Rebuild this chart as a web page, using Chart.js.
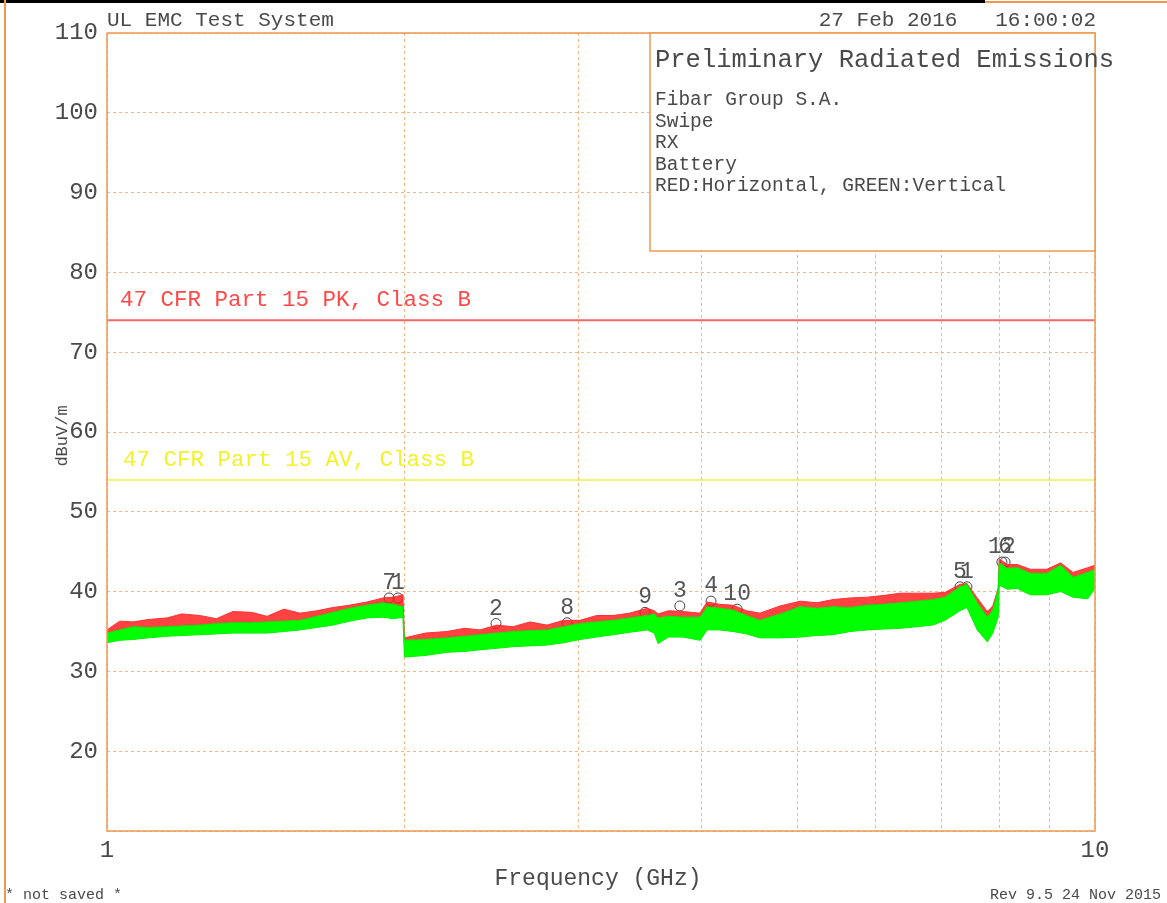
<!DOCTYPE html>
<html>
<head>
<meta charset="utf-8">
<script src="https://cdn.jsdelivr.net/npm/chart.js@4.4.1/dist/chart.umd.min.js"></script>
<style>
	body { margin: 0; background: #fff; }
	canvas { display: block; }
</style>
</head>
<body>
<canvas id="emc" width="1167" height="903"></canvas>
<script>
// trace envelopes (GHz / dBuV/m)
const freqGHz = [
	1.0, 1.03, 1.063, 1.10, 1.15, 1.19, 1.242, 1.29, 1.341, 1.40, 1.452, 1.51, 1.568, 1.63, 1.693, 1.76, 1.833, 1.903, 1.95, 1.993,
	2.0, 2.1, 2.209, 2.3, 2.385, 2.48, 2.576, 2.68, 2.788, 2.9, 3.011, 3.13, 3.252, 3.38, 3.521, 3.58, 3.612, 3.7, 3.828, 3.983,
	4.049, 4.17, 4.30, 4.44, 4.58, 4.8, 5.03, 5.23, 5.43, 5.65, 5.88, 6.1, 6.35, 6.6, 6.85, 7.05, 7.30, 7.42, 7.60, 7.78, 7.88, 7.98,
	8.0, 8.15, 8.34, 8.6, 8.94, 9.23, 9.5, 9.83, 10.0
];
const greenHi = [
	34.8, 35.2, 35.6, 35.5, 35.6, 35.7, 35.8, 36.0, 36.1, 36.1, 36.2, 36.3, 36.4, 36.9, 37.4, 37.9, 38.3, 38.6, 38.4, 38.1,
	33.9, 34.0, 34.2, 34.4, 34.6, 34.8, 35.0, 35.1, 35.2, 35.6, 36.0, 36.2, 36.4, 36.7, 37.0, 37.2, 36.7, 36.9, 36.8, 36.8,
	38.1, 37.9, 37.7, 37.0, 36.4, 37.2, 38.1, 37.9, 38.1, 38.0, 38.3, 38.4, 38.6, 38.8, 39.0, 39.3, 40.6, 40.9, 38.6, 36.8, 37.7, 40.2,
	43.6, 42.9, 43.0, 42.3, 42.3, 43.3, 41.8, 42.4, 42.8
];
const greenLo = [
	33.6, 33.9, 34.0, 34.2, 34.4, 34.5, 34.6, 34.7, 34.8, 34.8, 34.8, 35.0, 35.2, 35.5, 35.8, 36.3, 36.7, 36.8, 36.6, 36.8,
	31.8, 32.0, 32.4, 32.5, 32.7, 32.9, 33.1, 33.2, 33.3, 33.6, 34.0, 34.3, 34.6, 34.9, 35.2, 34.8, 33.5, 34.3, 34.3, 33.9,
	35.2, 35.2, 35.0, 34.7, 34.2, 34.2, 34.3, 34.5, 34.6, 35.0, 35.2, 35.3, 35.4, 35.6, 35.8, 36.4, 37.6, 38.0, 35.2, 33.7, 34.8, 36.8,
	40.8, 40.3, 40.4, 39.6, 39.6, 40.0, 39.3, 39.1, 40.4
];
const redHi = [
	35.2, 36.3, 36.2, 36.5, 36.7, 37.2, 37.0, 36.6, 37.5, 37.4, 36.9, 37.8, 37.3, 37.6, 38.0, 38.3, 38.7, 39.2, 39.3, 39.6,
	34.2, 34.8, 35.0, 35.4, 35.2, 35.8, 35.6, 36.2, 35.8, 36.4, 36.4, 37.0, 37.0, 37.3, 37.9, 37.6, 37.2, 37.6, 37.5, 37.3,
	38.7, 38.4, 38.3, 37.6, 37.3, 38.2, 38.8, 38.6, 39.0, 39.2, 39.3, 39.5, 39.8, 39.8, 39.8, 39.9, 40.9, 41.0, 39.2, 37.5, 38.2, 40.4,
	44.1, 43.4, 43.4, 42.8, 42.8, 43.6, 42.4, 43.0, 43.3
];

// numbered peak markers
const markerLabels = ['7', '1', '2', '8', '9', '3', '4', '10', '5', '1', '12', '6'];
const markerFreq = [1.93, 1.97, 2.476, 2.922, 3.504, 3.80, 4.087, 4.343, 7.30, 7.42, 8.05, 8.11];
const markerLevel = [39.2, 39.2, 36.0, 36.1, 37.4, 38.2, 38.8, 37.8, 40.6, 40.6, 43.7, 43.7];

// limit lines
const pkLimit = 74;
const avLimit = 54;
const pkLabel = '47 CFR Part 15 PK, Class B';
const avLabel = '47 CFR Part 15 AV, Class B';

const xTicks = [1, 2, 3, 4, 5, 6, 7, 8, 9, 10];
const yTicks = [10, 20, 30, 40, 50, 60, 70, 80, 90, 100, 110];
const infoLines = ['Fibar Group S.A.', 'Swipe', 'RX', 'Battery', 'RED:Horizontal, GREEN:Vertical'];

const FONT = '"Liberation Mono", "DejaVu Sans Mono", monospace';
const TEXT = '#4a4a4a';
const ORANGE = '#f09850';
const GRID = '#f5b585';

function pts(ys) {
	return freqGHz.map((f, i) => ({ x: f, y: ys[i] }));
}
function flat(v) {
	return [{ x: 1, y: v }, { x: 10, y: v }];
}

const overlay = {
	id: 'overlay',
	afterDraw(chart) {
		const ctx = chart.ctx;
		const a = chart.chartArea;
		const xs = chart.scales.x;
		const ys = chart.scales.y;
		ctx.save();

		// window frame
		ctx.fillStyle = '#000';
		ctx.fillRect(0, 0, 985, 3);
		ctx.fillStyle = ORANGE;
		ctx.fillRect(985, 1, 182, 2);
		ctx.fillRect(4, 0, 2, 903);

		// plot frame
		ctx.strokeStyle = ORANGE;
		ctx.lineWidth = 1.5;
		ctx.strokeRect(a.left, a.top, a.right - a.left, a.bottom - a.top);

		// info box
		ctx.fillStyle = '#fff';
		ctx.fillRect(650, a.top, a.right - 650, 251 - a.top);
		ctx.strokeRect(650, a.top, a.right - 650, 251 - a.top);
		ctx.fillStyle = TEXT;
		ctx.textBaseline = 'alphabetic';
		ctx.textAlign = 'left';
		ctx.font = '25.5px ' + FONT;
		ctx.fillText('Preliminary Radiated Emissions', 655, 67);
		ctx.font = '19.5px ' + FONT;
		infoLines.forEach((t, i) => ctx.fillText(t, 655, 105 + i * 21.6));

		// header / footer
		ctx.font = '21px ' + FONT;
		ctx.fillText('UL EMC Test System', 107, 26);
		ctx.textAlign = 'right';
		ctx.fillText('27 Feb 2016   16:00:02', 1096, 26);
		ctx.font = '15px ' + FONT;
		ctx.fillText('Rev 9.5 24 Nov 2015', 1161, 899);
		ctx.textAlign = 'left';
		ctx.fillText('* not saved *', 5, 899);
		ctx.textAlign = 'center';
		ctx.font = '23px ' + FONT;
		ctx.fillText('Frequency (GHz)', 598, 885);

		ctx.save();
		ctx.translate(67, 436);
		ctx.rotate(-Math.PI / 2);
		ctx.font = '17px ' + FONT;
		ctx.fillText('dBuV/m', 0, 0);
		ctx.restore();

		// limit line labels
		ctx.textAlign = 'left';
		ctx.font = '22.5px ' + FONT;
		ctx.fillStyle = '#ff4848';
		ctx.fillText(pkLabel, 120, ys.getPixelForValue(pkLimit) - 14);
		ctx.fillStyle = '#f2f22a';
		ctx.fillText(avLabel, 123, ys.getPixelForValue(avLimit) - 14);

		// marker numbers
		ctx.fillStyle = '#555';
		ctx.textAlign = 'center';
		ctx.font = '23px ' + FONT;
		markerLabels.forEach((t, i) => {
			const px = xs.getPixelForValue(markerFreq[i]);
			const py = ys.getPixelForValue(markerLevel[i]);
			ctx.fillText(t, px, py - 9);
		});
		ctx.restore();
	},
};

new Chart(document.getElementById('emc'), {
	type: 'line',
	data: {
		datasets: [
			{
				data: pts(greenHi),
				borderColor: '#00ee00',
				backgroundColor: '#00ff00',
				borderWidth: 1,
				fill: '+1',
			},
			{
				data: pts(greenLo),
				borderColor: '#00ee00',
				borderWidth: 1,
				fill: false,
			},
			{
				data: pts(redHi),
				borderColor: '#ff3030',
				backgroundColor: 'rgba(255,20,20,0.8)',
				borderWidth: 1,
				fill: 1,
			},
			{
				type: 'scatter',
				data: markerFreq.map((f, i) => ({ x: f, y: markerLevel[i] })),
				pointStyle: 'circle',
				pointRadius: 5,
				borderColor: '#444',
				backgroundColor: 'rgba(0,0,0,0)',
				borderWidth: 1,
			},
			{
				data: flat(pkLimit),
				borderColor: '#f06a6a',
				borderWidth: 2,
				fill: false,
			},
			{
				data: flat(avLimit),
				borderColor: '#f0f040',
				borderWidth: 1.5,
				fill: false,
			},
		],
	},
	options: {
		responsive: false,
		animation: false,
		devicePixelRatio: 1,
		elements: {
			point: { radius: 0 },
			line: { tension: 0 },
		},
		layout: {
			padding: { top: 33, right: 72, bottom: 0, left: 0 },
		},
		scales: {
			x: {
				type: 'logarithmic',
				min: 1,
				max: 10,
				afterFit: (s) => { s.height = 72; },
				afterBuildTicks: (s) => { s.ticks = xTicks.map((v) => ({ value: v })); },
				grid: { color: GRID, drawTicks: false, lineWidth: 1 },
				border: { display: false, dash: [3, 3] },
				ticks: {
					autoSkip: false,
					maxRotation: 0,
					padding: 5,
					color: TEXT,
					font: { family: FONT, size: 24 },
					callback: (v) => (v === 1 || v === 10 ? String(v) : ''),
				},
			},
			y: {
				type: 'linear',
				min: yTicks[0],
				max: yTicks[yTicks.length - 1],
				afterFit: (s) => { s.width = 107; },
				afterBuildTicks: (s) => { s.ticks = yTicks.map((v) => ({ value: v })); },
				grid: { color: GRID, drawTicks: false, lineWidth: 1 },
				border: { display: false, dash: [3, 3] },
				ticks: {
					padding: 9,
					color: TEXT,
					font: { family: FONT, size: 24 },
					callback: (v) => (v === 10 ? '' : String(v)),
				},
			},
		},
		plugins: {
			legend: { display: false },
			tooltip: { enabled: false },
		},
	},
	plugins: [overlay],
});
</script>
</body>
</html>
